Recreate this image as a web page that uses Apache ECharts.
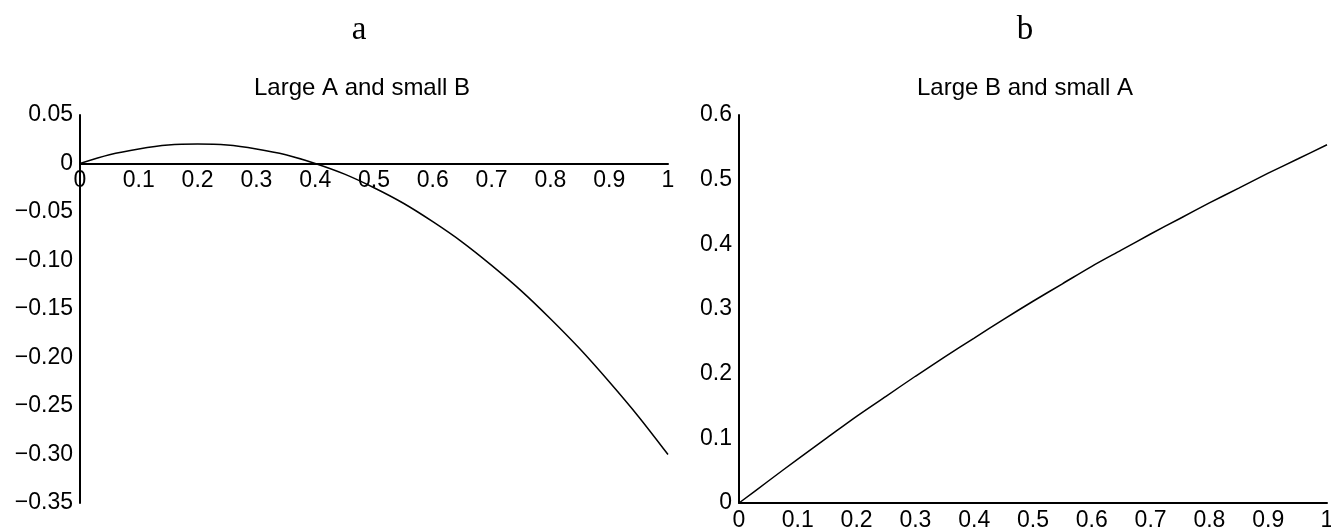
<!DOCTYPE html>
<html>
<head>
<meta charset="utf-8">
<script src="https://cdn.jsdelivr.net/npm/echarts@6/dist/echarts.min.js"></script>
<style>
  html, body { margin: 0; padding: 0; background: #fff; }
  #chart { width: 1331px; height: 529px; }
</style>
</head>
<body>
<div id="chart"></div>
<script>
// x positions shared by both panels
const xs = [0, 0.05, 0.1, 0.15, 0.2, 0.25, 0.3, 0.35, 0.4, 0.45, 0.5,
            0.55, 0.6, 0.65, 0.7, 0.75, 0.8, 0.85, 0.9, 0.95, 1];

// panel a: large A and small B
const curveA = [0, 0.009, 0.015, 0.019, 0.02, 0.019, 0.015, 0.009, 0, -0.011, -0.025,
                -0.041, -0.06, -0.081, -0.105, -0.131, -0.16, -0.191, -0.225, -0.261, -0.3];

// panel b: large B and small A
const curveB = [0, 0.034, 0.068, 0.101, 0.134, 0.165, 0.196, 0.226, 0.255, 0.284, 0.312,
                0.339, 0.366, 0.391, 0.416, 0.44, 0.464, 0.487, 0.51, 0.532, 0.554];

const panelTitles = ["Large A and small B", "Large B and small A"];
const panelLetters = ["a", "b"];

const font = "Liberation Sans";
const black = "#000";
const labelSize = 23;

const toPairs = (ys) => xs.map((x, i) => [x, ys[i]]);

const xLabel = (v) => (v === 0 ? "0" : v === 1 ? "1" : v.toFixed(1));
const yLabelA = (v) => {
  if (Math.abs(v) < 1e-9) return "0";
  return v.toFixed(2).replace("-", "\u2212");
};
const yLabelB = (v) => (Math.abs(v) < 1e-9 ? "0" : v.toFixed(1));

// grid geometry (px)
const gridTop = 115;
const gridH = 388;
const gridW = 588;
// left panel: x axis sits on y = 0 inside a -0.35..0.05 range
const zeroOffsetA = -(gridH * 0.35 / 0.4);

const baseX = (gridIndex, offset, margin) => ({
  type: "value",
  gridIndex,
  min: 0,
  max: 1,
  interval: 0.1,
  position: "bottom",
  offset,
  axisLine: { onZero: false, lineStyle: { color: black, width: 2 } },
  axisTick: { show: false },
  splitLine: { show: false },
  axisLabel: {
    color: black,
    fontFamily: font,
    fontSize: labelSize,
    margin,
    formatter: xLabel,
    showMinLabel: true,
    showMaxLabel: true,
  },
});

const baseY = (gridIndex, min, max, interval, formatter) => ({
  type: "value",
  gridIndex,
  min,
  max,
  interval,
  axisLine: { show: true, onZero: false, lineStyle: { color: black, width: 2 } },
  axisTick: { show: false },
  splitLine: { show: false },
  axisLabel: { color: black, fontFamily: font, fontSize: labelSize, margin: 7, formatter },
});

const chart = echarts.init(document.getElementById("chart"));
chart.setOption({
  backgroundColor: "#fff",
  animation: false,
  title: [
    { text: panelLetters[0], left: 354, top: 9, textAlign: "center",
      textStyle: { fontFamily: "Liberation Serif", fontSize: 33, fontWeight: "normal", color: black } },
    { text: panelLetters[1], left: 1020, top: 9, textAlign: "center",
      textStyle: { fontFamily: "Liberation Serif", fontSize: 33, fontWeight: "normal", color: black } },
    { text: panelTitles[0], left: 357, top: 71, textAlign: "center",
      textStyle: { fontFamily: font, fontSize: 24, fontWeight: "normal", color: black } },
    { text: panelTitles[1], left: 1020, top: 71, textAlign: "center",
      textStyle: { fontFamily: font, fontSize: 24, fontWeight: "normal", color: black } },
  ],
  grid: [
    { left: 80, top: gridTop, width: gridW, height: gridH, outerBoundsMode: "none" },
    { left: 739, top: gridTop, width: gridW, height: gridH, outerBoundsMode: "none" },
  ],
  xAxis: [baseX(0, zeroOffsetA, 6), baseX(1, 0, 6)],
  yAxis: [
    baseY(0, -0.35, 0.05, 0.05, yLabelA),
    baseY(1, 0, 0.6, 0.1, yLabelB),
  ],
  series: [
    {
      type: "line",
      xAxisIndex: 0,
      yAxisIndex: 0,
      data: toPairs(curveA),
      smooth: 0.3,
      showSymbol: false,
      lineStyle: { color: black, width: 1.5 },
    },
    {
      type: "line",
      xAxisIndex: 1,
      yAxisIndex: 1,
      data: toPairs(curveB),
      smooth: 0.3,
      showSymbol: false,
      lineStyle: { color: black, width: 1.5 },
    },
  ],
});
</script>
</body>
</html>
